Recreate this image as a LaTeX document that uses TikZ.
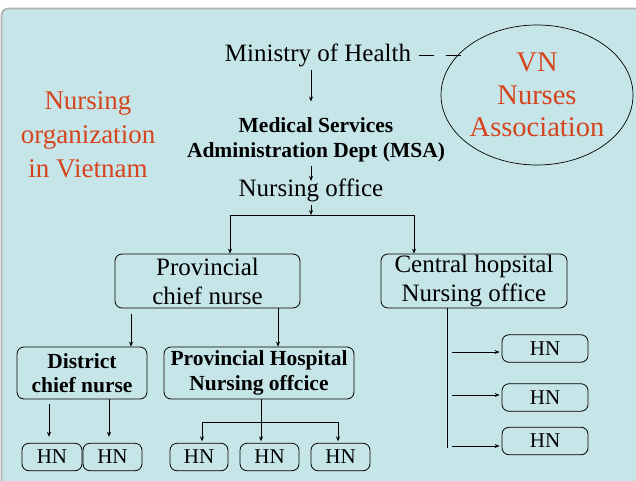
\documentclass[tikz,border=0pt]{standalone}
\usepackage{fontspec}
\setmainfont{Liberation Serif}
\usetikzlibrary{arrows.meta,shapes.geometric}

\definecolor{slideblue}{RGB}{198,229,232}
\definecolor{slidered}{RGB}{213,68,28}

\begin{document}
\begin{tikzpicture}[x=1pt,y=1pt,yscale=-1,xscale=1,
  arr/.style={-{Stealth[length=5pt,width=4pt]},line width=0.7pt},
  plain/.style={line width=0.7pt},
  bigtext/.style={font=\fontsize{25}{29}\selectfont,align=center},
  boldtext/.style={font=\fontsize{21.5}{24.5}\selectfont\bfseries,align=center},
  unitbox/.style={draw,rounded corners=7,line width=0.8pt,inner sep=0pt},
  hnbox/.style={unitbox,font=\fontsize{21}{24}\selectfont,minimum height=27.5}]
\useasboundingbox (0,0) rectangle (636,481);
\clip (0,0) rectangle (636,481);

%Shape: slide background
\draw [draw=black!30,line width=1.8,fill=slideblue,rounded corners=7] (1.5,8.5) rectangle (680,520);

% Text Node
\node [text=slidered,font=\fontsize{27}{34}\selectfont,align=center] (title) at (88,135) {Nursing\\organization\\in Vietnam};
%Shape: Ellipse
\node [draw,ellipse,line width=0.7pt,minimum width=192,minimum height=140,inner sep=0pt,text=slidered,font=\fontsize{28.5}{32.5}\selectfont,align=center] (vna) at (537,95) {VN\\Nurses\\Association};

% Text Node
\node [bigtext] (ministry) at (318,55) {Ministry of Health};
% Text Node
\node [boldtext] (msa) at (316,140) {Medical Services\\Administration Dept (MSA)};
% Text Node
\node [bigtext] (office) at (311,190) {Nursing office};

%Shape: rounded boxes
\node [unitbox,bigtext,minimum width=185,minimum height=54] (prov) at (207.5,281) {Provincial\\chief nurse};
\node [unitbox,bigtext,minimum width=186,minimum height=54] (central) at (474,281) {Central hopsital\\Nursing office};
\node [unitbox,boldtext,minimum width=130,minimum height=52] (district) at (82,373) {District\\chief nurse};
\node [unitbox,boldtext,minimum width=190,minimum height=52] (provhosp) at (259,373) {Provincial Hospital\\Nursing offcice};

%Shape: HN boxes
\node [hnbox,minimum width=60] (hn1) at (52,457) {HN};
\node [hnbox,minimum width=59] (hn2) at (112.5,457) {HN};
\node [hnbox,minimum width=58] (hn3) at (199,457) {HN};
\node [hnbox,minimum width=59] (hn4) at (269.5,457) {HN};
\node [hnbox,minimum width=59] (hn5) at (340.5,457) {HN};
\node [hnbox,minimum width=86] (hn6) at (545,348.5) {HN};
\node [hnbox,minimum width=86] (hn7) at (545,397.5) {HN};
\node [hnbox,minimum width=86] (hn8) at (545,441) {HN};

% helper points
\coordinate (split) at (311,215);
\coordinate (lsplit) at (230,215);
\coordinate (rsplit) at (414,215);
\coordinate (dx) at (131,0);
\coordinate (px) at (278,0);
\coordinate (hx1) at (49,0);
\coordinate (hx2) at (109,0);
\coordinate (phsplit) at (261,422);
\coordinate (phleft) at (202,422);
\coordinate (phright) at (338,422);
\coordinate (cx) at (447,0);
\coordinate (cend) at (447,448);
\coordinate (cr1) at (452,352);
\coordinate (cr2) at (452,395);
\coordinate (cr3) at (452,446);

%Straight Lines
\draw [plain,dash pattern=on 15 off 12,shorten <=4,shorten >=-4] (ministry.east) -- (ministry.east -| vna.153);
\draw [arr,shorten >=13] (ministry.south -| office) -- (msa.north -| office);
\draw [arr,shorten >=-6] (msa.south -| office) -- (office.north);
\draw [arr] (office.south) -- (split);
\draw [plain] (lsplit) -- (rsplit);
\draw [arr] (lsplit) -- (lsplit |- prov.north);
\draw [arr] (rsplit) -- (rsplit |- central.north);
\draw [arr,shorten <=6] (prov.south -| dx) -- (district.north -| dx);
\draw [arr] (prov.south -| px) -- (provhosp.north -| px);
\draw [arr,shorten <=5,shorten >=6] (district.south -| hx1) -- (hn1.north -| hx1);
\draw [arr,shorten >=6] (district.south -| hx2) -- (hn2.north -| hx2);
\draw [arr,shorten >=1.5] (provhosp.south -| phsplit) -- (hn4.north -| phsplit);
\draw [plain] (phleft) -- (phright);
\draw [arr,shorten >=1.5] (phleft) -- (phleft |- hn3.north);
\draw [arr,shorten >=1.5] (phright) -- (phright |- hn5.north);
\draw [plain] (central.south -| cx) -- (cend);
\draw [arr,shorten >=2] (cr1) -- (cr1 -| hn6.west);
\draw [arr,shorten >=2] (cr2) -- (cr2 -| hn7.west);
\draw [arr,shorten >=2] (cr3) -- (cr3 -| hn8.west);

\end{tikzpicture}
\end{document}
